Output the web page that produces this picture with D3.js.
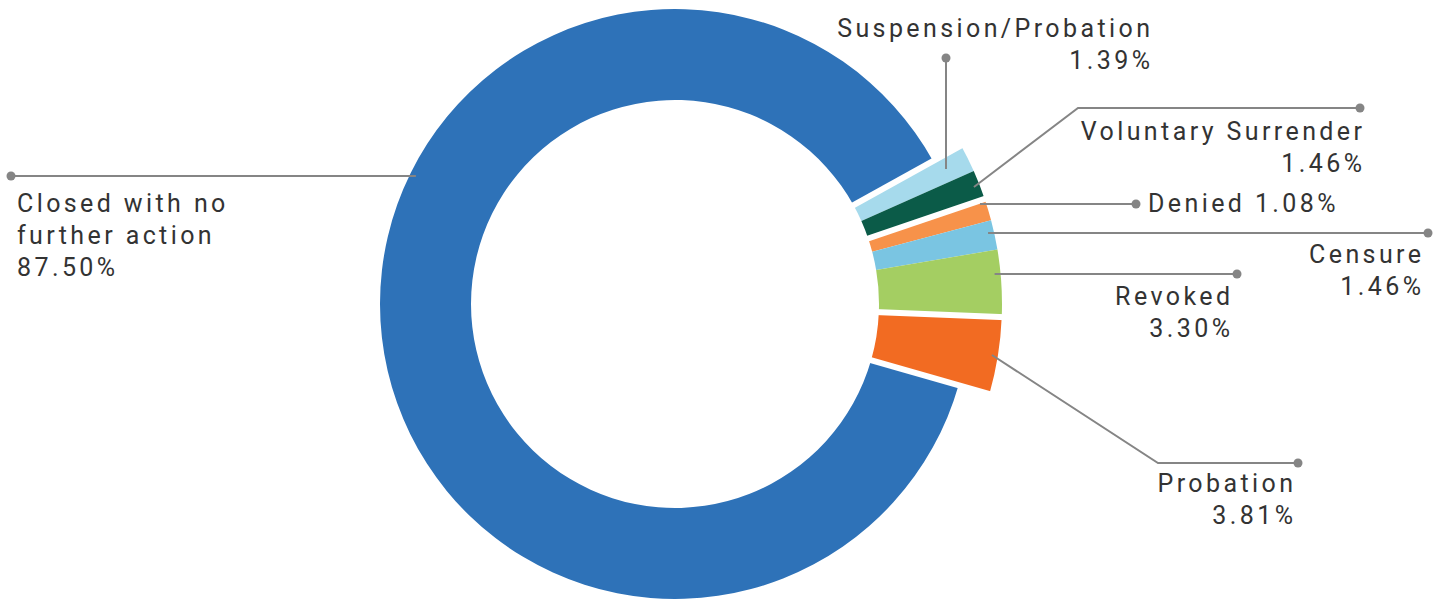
<!DOCTYPE html>
<html><head><meta charset="utf-8">
<script src="https://cdn.jsdelivr.net/npm/d3@7"></script>
<style>html,body{margin:0;padding:0;background:#fff;overflow:hidden} svg{display:block}</style>
</head><body>
<svg id="chart" width="1446" height="599"></svg>
<script>
// ---- data ----
const categories = ["Suspension/Probation","Voluntary Surrender","Denied","Censure","Revoked","Probation","Closed with no further action"];
const values = [1.39, 1.46, 1.08, 1.46, 3.30, 3.81, 87.50];
const colors = ["#A6DAEC","#0B5B48","#F7924A","#7AC5E2","#A4CE62","#F26B22","#2E72B8"];

// ---- layout / style ----
const W = 1446, H = 599;
const cx = 675, cy = 304;
const rIn = 204, rOutMain = 295, rOutSmall = 327;
const startDeg = 61;
const gapBefore = [6, 0, 6, 0, 0, 6, 6]; // white separator width before each slice
const lineColor = "#858585", textColor = "#333333";
const fontSize = 25, ls = 3.4, lineH = 32;
const leaders = [
  {type:"v", x:946, dot:[946,58], tx:1150, ty:37, anchor:"end"},
  {type:"elbow", elbow:[1078,108], dot:[1360,108], tx:1362, ty:140, anchor:"end"},
  {type:"h", y:204, dot:[1136,204], tx:1148, ty:212, anchor:"start", oneLine:true},
  {type:"h", y:233, dot:[1428,233], tx:1421, ty:263, anchor:"end"},
  {type:"h", y:274, dot:[1237,274], tx:1230, ty:305, anchor:"end"},
  {type:"elbow", elbow:[1158,463], dot:[1298,463], tx:1293, ty:492, anchor:"end"},
  {type:"h", y:176, dot:[11,176], tx:17, ty:212, anchor:"start", wrapWords:3}
];

const fmt = v => d3.format(".2f")(v) + "%";
const svg = d3.select("#chart");
const g = svg.append("g").attr("transform", `translate(${cx},${cy})`);

const data = categories.map((c,i)=>({cat:c, value:values[i], color:colors[i], i}));
const pie = d3.pie().value(d=>d.value).sort(null)
  .startAngle(startDeg*Math.PI/180).endAngle(startDeg*Math.PI/180 + 2*Math.PI);
const arcs = pie(data);
const outerR = d => d.data.i === 6 ? rOutMain : rOutSmall;
const arc = d3.arc().innerRadius(rIn).outerRadius(d=>outerR(d));

// leader lines (drawn under slices)
const leaderG = svg.append("g");
arcs.forEach((a,i)=>{
  const L = leaders[i];
  const R = outerR(a);
  const mid = (a.startAngle + a.endAngle)/2;
  let pts;
  if (L.type === "h") {
    const dy = L.y - cy;
    const sign = L.dot[0] > cx ? 1 : -1;
    const x0 = cx + sign*Math.sqrt((R-6)*(R-6) - dy*dy);
    pts = [[x0, L.y], L.dot];
  } else if (L.type === "v") {
    const r = (L.x - cx)/Math.sin(mid);
    pts = [[L.x, cy - r*Math.cos(mid)], L.dot];
  } else {
    const r = R - 6;
    pts = [[cx + r*Math.sin(mid), cy - r*Math.cos(mid)], L.elbow, L.dot];
  }
  leaderG.append("path").attr("d", d3.line()(pts))
    .attr("fill","none").attr("stroke",lineColor).attr("stroke-width",2);
  leaderG.append("circle").attr("cx",L.dot[0]).attr("cy",L.dot[1]).attr("r",4.5).attr("fill",lineColor);
});

// slices
g.selectAll("path.slice").data(arcs).join("path").attr("class","slice")
  .attr("d", arc).attr("fill", d=>d.data.color);

// separators
arcs.forEach((a,i)=>{
  if (!gapBefore[i]) return;
  const ang = a.startAngle;
  g.append("line")
    .attr("x1",(rIn-4)*Math.sin(ang)).attr("y1",-(rIn-4)*Math.cos(ang))
    .attr("x2",(rOutSmall+4)*Math.sin(ang)).attr("y2",-(rOutSmall+4)*Math.cos(ang))
    .attr("stroke","#fff").attr("stroke-width",gapBefore[i]);
});

// labels
const labelG = svg.append("g").attr("font-family","Roboto, 'Liberation Sans', Arial, sans-serif")
  .attr("font-size",fontSize).attr("fill",textColor).style("letter-spacing", ls+"px");
arcs.forEach((a,i)=>{
  const L = leaders[i];
  let lines;
  const pct = fmt(a.data.value);
  if (L.oneLine) lines = [a.data.cat + " " + pct];
  else if (L.wrapWords) {
    const w = a.data.cat.split(" ");
    lines = [w.slice(0,L.wrapWords).join(" "), w.slice(L.wrapWords).join(" "), pct];
  } else lines = [a.data.cat, pct];
  const x = L.anchor === "end" ? L.tx + ls : L.tx;
  const t = labelG.append("text").attr("text-anchor", L.anchor);
  lines.forEach((s,k)=>{
    t.append("tspan").attr("x", x).attr("y", L.ty + k*lineH).text(s);
  });
});
</script>
</body></html>
